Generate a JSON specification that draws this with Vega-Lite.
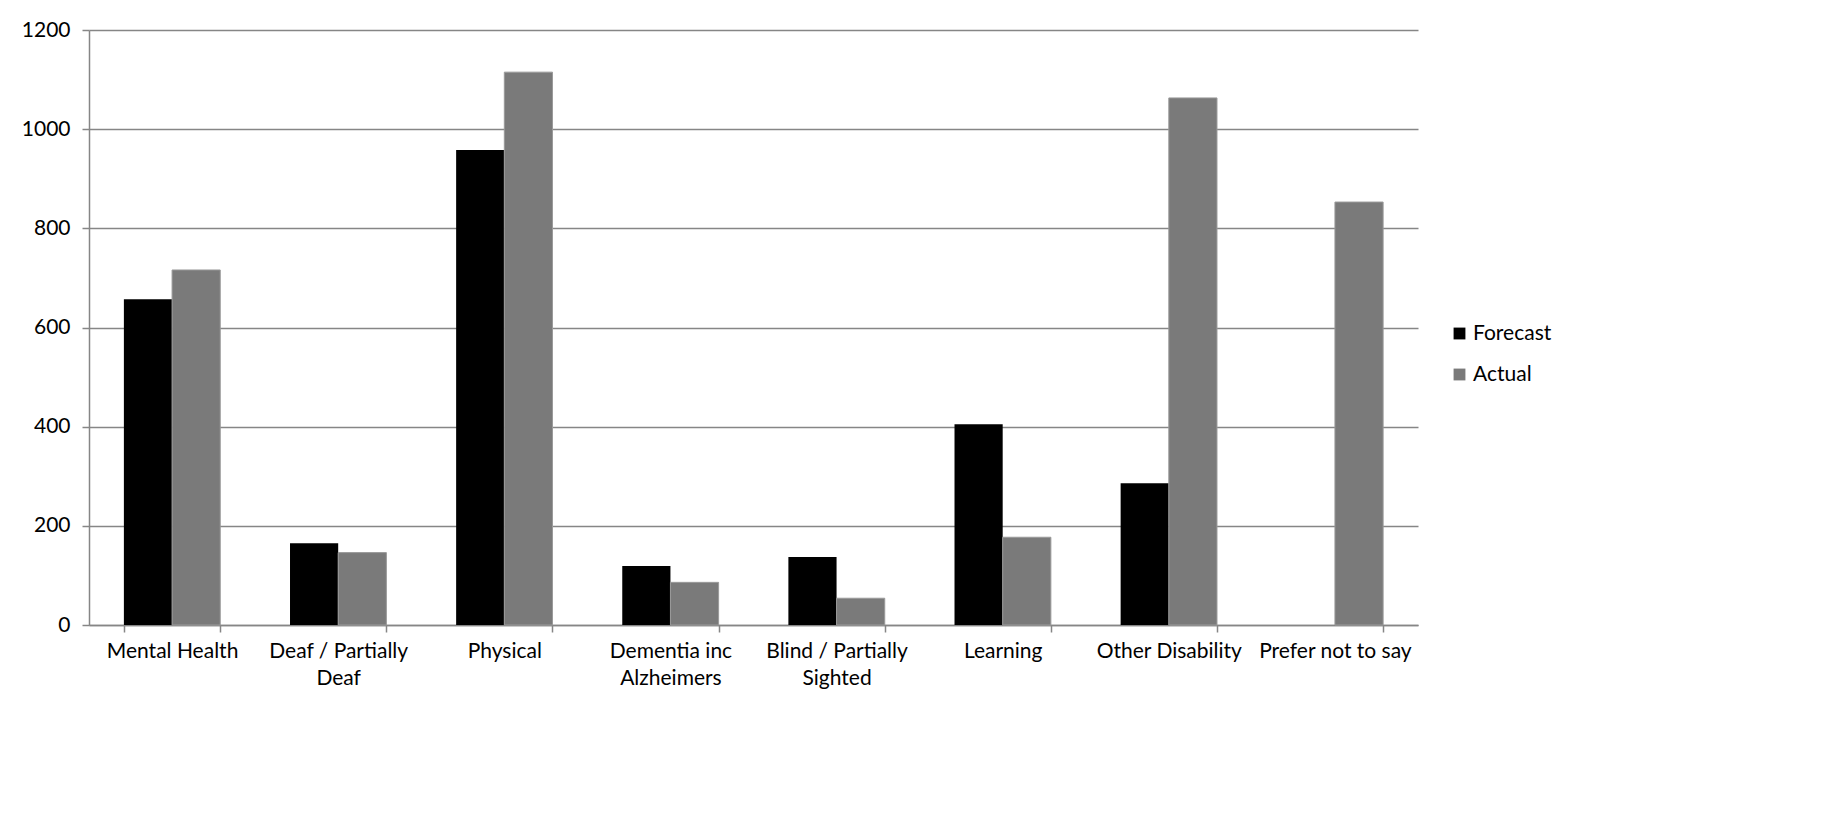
{
  "$schema": "https://vega.github.io/schema/vega-lite/v6.json",
  "autosize": "none",
  "width": 1329,
  "height": 595,
  "padding": {"left": 89, "top": 30, "right": 421, "bottom": 203},
  "background": "white",
  "config": {
    "font": "Lato",
    "view": {"stroke": null},
    "axis": {"labelFont": "Lato", "labelFontSize": 21, "labelColor": "#000000", "domainColor": "#868686", "tickColor": "#868686", "gridColor": "#868686", "domainWidth": 1.5, "tickWidth": 1.5, "gridWidth": 1.5}
  },
  "data": {
    "values": [
      {"category": "Mental Health", "series": "Forecast", "value": 657},
      {"category": "Mental Health", "series": "Actual", "value": 716},
      {"category": "Deaf / Partially Deaf", "series": "Forecast", "value": 165},
      {"category": "Deaf / Partially Deaf", "series": "Actual", "value": 146},
      {"category": "Physical", "series": "Forecast", "value": 958},
      {"category": "Physical", "series": "Actual", "value": 1115},
      {"category": "Dementia inc Alzheimers", "series": "Forecast", "value": 119},
      {"category": "Dementia inc Alzheimers", "series": "Actual", "value": 86},
      {"category": "Blind / Partially Sighted", "series": "Forecast", "value": 137},
      {"category": "Blind / Partially Sighted", "series": "Actual", "value": 54},
      {"category": "Learning", "series": "Forecast", "value": 405},
      {"category": "Learning", "series": "Actual", "value": 177},
      {"category": "Other Disability", "series": "Forecast", "value": 286},
      {"category": "Other Disability", "series": "Actual", "value": 1063},
      {"category": "Prefer not to say", "series": "Forecast", "value": 0},
      {"category": "Prefer not to say", "series": "Actual", "value": 853}
    ]
  },
  "mark": {"type": "bar", "strokeWidth": 1},
  "encoding": {
    "x": {
      "field": "category", "type": "nominal", "sort": null, "title": null,
      "scale": {"paddingInner": 0.42, "paddingOuter": 0.21},
      "axis": {
        "labelAngle": 0, "tickBand": "extent", "tickSize": 7, "labelPadding": 8,
        "labelBaseline": "top", "labelLineHeight": 27, "labelLimit": 0,
        "labelExpr": "datum.label == 'Deaf / Partially Deaf' ? ['Deaf / Partially', 'Deaf'] : datum.label == 'Dementia inc Alzheimers' ? ['Dementia inc', 'Alzheimers'] : datum.label == 'Blind / Partially Sighted' ? ['Blind / Partially', 'Sighted'] : datum.label"
      }
    },
    "xOffset": {"field": "series", "type": "nominal", "sort": ["Forecast", "Actual"], "scale": {"paddingInner": 0, "paddingOuter": 0}},
    "y": {
      "field": "value", "type": "quantitative", "title": null,
      "scale": {"domain": [0, 1200], "nice": false},
      "axis": {"values": [0, 200, 400, 600, 800, 1000, 1200], "format": "d", "grid": true, "tickSize": 7, "labelPadding": 12, "domain": true}
    },
    "color": {
      "field": "series", "type": "nominal", "sort": ["Forecast", "Actual"],
      "scale": {"domain": ["Forecast", "Actual"], "range": ["#000000", "#7a7a7a"]},
      "legend": {
        "title": null, "orient": "none", "legendX": 1360, "legendY": 293,
        "symbolType": "square", "symbolSize": 140, "labelFontSize": 21, "labelFont": "Lato",
        "rowPadding": 19, "labelOffset": 3, "symbolStrokeWidth": 0
      }
    },
    "stroke": {
      "field": "series", "type": "nominal",
      "scale": {"domain": ["Forecast", "Actual"], "range": ["transparent", "#9a9a9a"]},
      "legend": null
    }
  }
}
